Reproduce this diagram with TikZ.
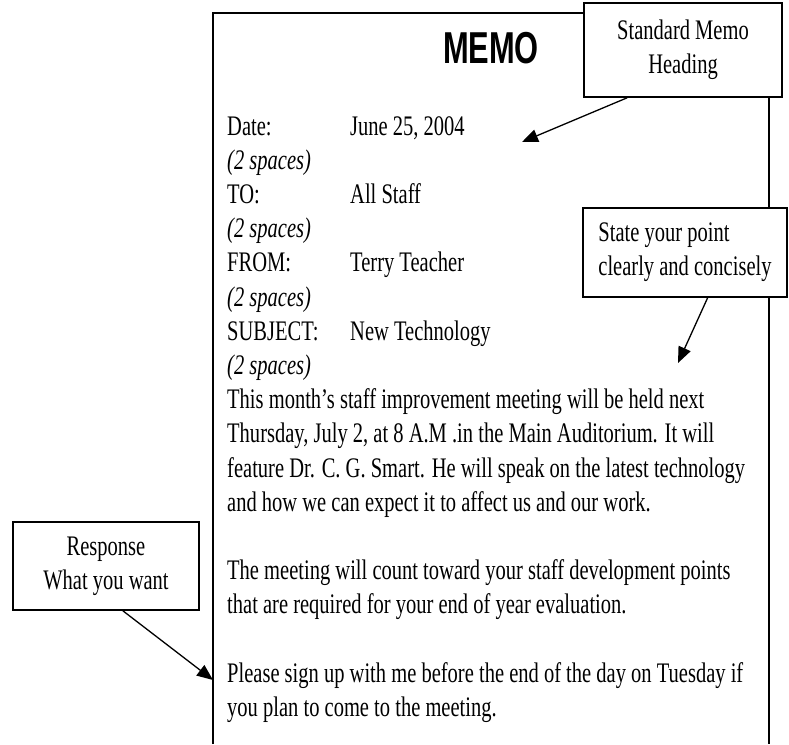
\documentclass[tikz,border=0pt]{standalone}
\usepackage{fontspec}
\setmainfont{Liberation Serif}[FakeStretch=0.725]
\newfontfamily\memosans{Liberation Sans}[FakeStretch=0.69]
\usepackage{tikz}
\usetikzlibrary{calc,arrows.meta}
\newcommand\memofont{\fontsize{28.3}{34.2}\selectfont}
\tikzset{
  pointer/.style={-{Triangle[length=16pt,width=13pt]}, line width=1.3pt},
  page/.style={line width=1.6pt},
  callout/.style={draw, fill=white, line width=1.6pt, align=center, inner sep=0pt, font=\memofont},
  memotext/.style={anchor=base west, inner sep=0pt, font=\memofont},
  % spacer lines under each heading field
  gaptext/.style={memotext, font=\memofont\itshape}
}

\begin{document}
\begin{tikzpicture}[x=1pt, y=-1pt]
  \useasboundingbox (0,0) rectangle (789,744);
  % the memo sheet, open at the bottom
  \draw[page] (213,744) -- (213,13) -- (769,13) -- (769,744);
  \node[anchor=base, inner sep=0pt, font=\memosans\bfseries\fontsize{44.7}{50}\selectfont] (title) at (491,63) {MEMO};
  % heading fields
  \foreach \lab/\val [count=\i] in {Date:/{June 25, 2004}, TO:/{All Staff}, FROM:/{Terry Teacher}, SUBJECT:/{New Technology}} {
    \node[memotext] (lab\i) at ({227},{135+68.4*(\i-1)}) {\lab};
    \node[memotext] (val\i) at ({350},{135+68.4*(\i-1)}) {\val};
    \node[gaptext] (gap\i) at ({227},{169.2+68.4*(\i-1)}) {(2 spaces)};
  }
  % message
  \foreach \k/\txt in {8/{This month's staff improvement meeting will be held next},
      9/{Thursday, July 2, at 8 A.M .in the Main Auditorium.  It will},
      10/{feature Dr. C. G. Smart.  He will speak on the latest technology},
      11/{and how we can expect it to affect us and our work.},
      13/{The meeting will count toward your staff development points},
      14/{that are required for your end of year evaluation.},
      16/{Please sign up with me before the end of the day on Tuesday if},
      17/{you plan to come to the meeting.}} {
    \node[memotext] (line\k) at ({227},{135+34.2*\k}) {\txt};
  }
  % callouts
  \node[callout, minimum width=198pt, minimum height=94pt] (heading) at (683,50) {Standard Memo\\Heading};
  \node[callout, minimum width=204pt, minimum height=89pt, align=left] (point) at (685,252.5) {State your point\\clearly and concisely};
  \node[callout, minimum width=186pt, minimum height=88pt] (response) at (106,566) {Response\\What you want};
  \coordinate (headtip) at (522,142);
  \coordinate (pointtip) at (678,363);
  \coordinate (responsetip) at (213,680);
  \draw[pointer] ($(heading.south west)!0.22!(heading.south east)$) -- (headtip);
  \draw[pointer] ($(point.south west)!0.61!(point.south east)$) -- (pointtip);
  \draw[pointer] ($(response.south west)!0.59!(response.south east)$) -- (responsetip);
\end{tikzpicture}
\end{document}
